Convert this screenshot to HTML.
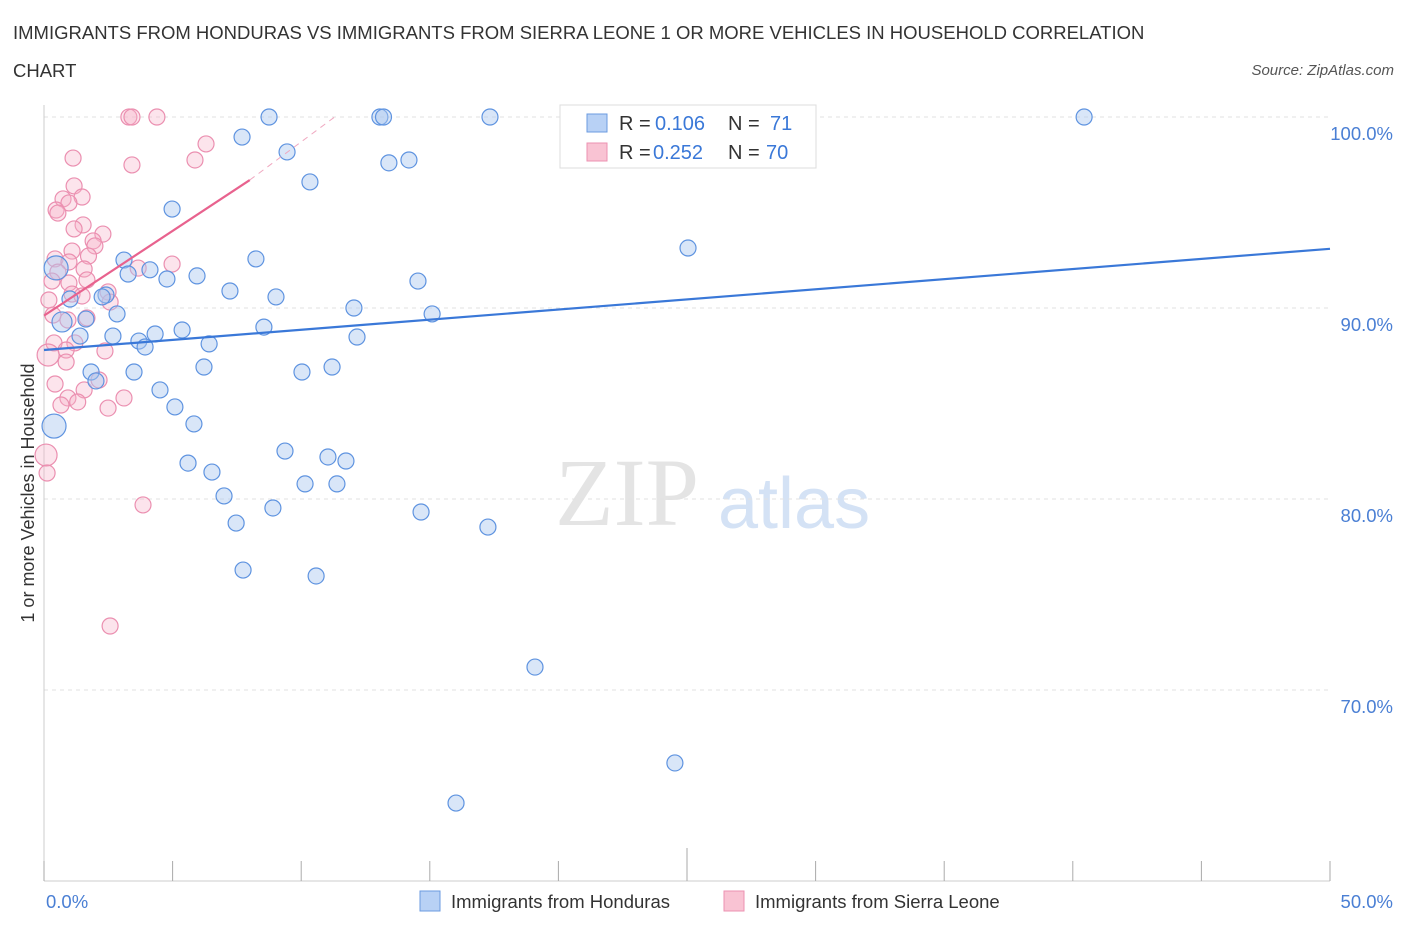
<!DOCTYPE html>
<html><head><meta charset="utf-8">
<style>
body{margin:0;background:#fff;font-family:"Liberation Sans",sans-serif;}
#wrap{position:relative;width:1406px;height:930px;overflow:hidden;}
.t{position:absolute;white-space:nowrap;}
</style></head>
<body>
<div id="wrap">
<div class="t" style="left:13px;top:14px;font-size:18.5px;color:#333;line-height:38px;">IMMIGRANTS FROM HONDURAS VS IMMIGRANTS FROM SIERRA LEONE 1 OR MORE VEHICLES IN HOUSEHOLD CORRELATION<br>CHART</div>
<div class="t" style="right:12px;top:62px;font-size:15px;font-style:italic;color:#555;">Source: ZipAtlas.com</div>
<svg id="svg" width="1406" height="930" style="position:absolute;left:0;top:0"></svg>
</div>
<script>
const xTicks=[0,5,10,15,20,25,30,35,40,45,50];
const yTicks=[70,80,90,100];
const yTickLabels=["70.0%","80.0%","90.0%","100.0%"];
const blueX=[8.75,13.06,13.2,17.34,40.44,28.1,7.7,9.45,14.19,13.41,10.34,4.98,25.04,3.11,8.24,4.12,3.27,5.95,4.78,14.54,7.23,9.02,2.41,1.01,2.26,12.05,15.09,2.84,0.7,1.63,8.55,5.37,4.32,2.68,1.4,12.17,3.69,3.93,6.42,6.22,10.03,11.2,3.5,1.83,2.02,4.51,5.09,5.83,0.39,9.37,11.04,11.74,5.6,6.53,10.15,11.39,7.0,8.9,14.66,7.47,17.26,7.74,10.58,19.09,24.53,16.02,0.47];
const blueY=[100,100,100,100,100,100,98.95,98.17,97.75,97.6,96.6,95.18,93.14,92.51,92.57,92.0,91.78,91.68,91.52,91.41,90.89,90.58,90.68,90.47,90.58,90.0,89.69,89.69,89.27,89.42,89.0,88.85,88.64,88.53,88.53,88.48,88.27,87.96,88.12,86.91,86.65,86.91,86.65,86.65,86.18,85.71,84.82,83.93,83.82,82.51,82.2,81.99,81.88,81.41,80.79,80.79,80.16,79.53,79.32,78.74,78.53,76.28,75.97,71.2,66.18,64.08,92.1];
const blueR=[8,8,8,8,8,8,8,8,8,8,8,8,8,8,8,8,8,8,8,8,8,8,8,8,8,8,8,8,10,8,8,8,8,8,8,8,8,8,8,8,8,8,8,8,8,8,8,8,12,8,8,8,8,8,8,8,8,8,8,8,8,8,8,8,8,8,12];
const pinkX=[3.3,3.42,4.39,6.3,5.87,3.42,1.13,1.17,1.48,0.74,0.97,0.47,0.54,1.52,1.17,2.29,1.91,1.98,1.09,1.73,0.43,0.97,4.98,3.66,1.56,0.54,1.67,0.97,0.31,1.09,1.48,2.49,2.57,0.19,0.35,0.93,1.67,0.39,1.2,0.86,2.37,0.86,1.56,2.14,0.43,0.93,1.31,0.66,3.11,2.49,0.08,0.12,3.85,2.57,0.16];
const pinkY=[100,100,100,98.59,97.75,97.49,97.85,96.39,95.81,95.71,95.5,95.13,94.97,94.35,94.14,93.87,93.51,93.25,92.98,92.72,92.57,92.41,92.3,92.09,92.04,91.88,91.47,91.31,91.41,90.73,90.63,90.84,90.31,90.42,89.63,89.37,89.48,88.17,88.17,87.8,87.75,87.17,85.71,86.23,86.02,85.29,85.08,84.92,85.29,84.76,82.3,81.36,79.69,73.35,87.54];
const blueTrend=[87.8,93.1];
const pinkTrend=[89.6,96.7,100];
const pinkTrendX=[0,8,11.3];
const X=v=>44+v*25.72, Y=v=>117+(100-v)*19.1;
const svg=document.getElementById('svg');
function mk(tag,attrs,name){const e=document.createElementNS('http://www.w3.org/2000/svg',tag);for(const k in attrs)e.setAttribute(k,attrs[k]);


svg.appendChild(e);return e;}
let w=mk('text',{x:555,y:525,'font-size':96,'font-family':'Liberation Serif',fill:'#e4e4e4'},'watermark-zip');w.textContent='ZIP';
w=mk('text',{x:718,y:528,'font-size':72,'font-family':'Liberation Sans',fill:'#d4e2f5'},'watermark-atlas');w.textContent='atlas';
yTicks.forEach((v,i)=>{mk('line',{x1:44,x2:1330,y1:Y(v),y2:Y(v),stroke:'#e2e2e2','stroke-dasharray':'4,4'},'gridline-y');
const t=mk('text',{x:1393,y:Y(v)+23,'text-anchor':'end','font-size':18.5,fill:'#4a7fd4'},'y-tick-label');t.textContent=yTickLabels[i];});
mk('line',{x1:44,x2:44,y1:105,y2:881,stroke:'#ccc'},'y-axis-line');
mk('line',{x1:44,x2:1330,y1:881,y2:881,stroke:'#ccc'},'x-axis-line');
xTicks.forEach((v,i)=>{mk('line',{x1:X(v),x2:X(v),y1:881,y2:(i==5?848:861),stroke:'#aaa'},'x-tick');});
let t=mk('text',{x:46,y:908,'font-size':18.5,fill:'#4a7fd4'},'x-tick-label');t.textContent='0.0%';
t=mk('text',{x:1393,y:908,'text-anchor':'end','font-size':18.5,fill:'#4a7fd4'},'x-tick-label');t.textContent='50.0%';
t=mk('text',{x:34,y:493,'font-size':18,fill:'#333','text-anchor':'middle',transform:'rotate(-90 34 493)'},'y-axis-title');t.textContent='1 or more Vehicles in Household';
pinkX.forEach((v,i)=>mk('circle',{cx:X(v),cy:Y(pinkY[i]),r:(i==54||i==50?11:8),fill:'rgba(247,178,200,0.35)',stroke:'#eb8fb0','stroke-width':1.2},'point-sierra-leone'));
blueX.forEach((v,i)=>mk('circle',{cx:X(v),cy:Y(blueY[i]),r:blueR[i],fill:'rgba(170,200,240,0.45)',stroke:'#5e93e0','stroke-width':1.2},'point-honduras'));
mk('line',{x1:X(0),y1:Y(blueTrend[0]),x2:X(50),y2:Y(blueTrend[1]),stroke:'#3a78d8','stroke-width':2.2},'trend-honduras');
mk('line',{x1:X(pinkTrendX[0]),y1:Y(pinkTrend[0]),x2:X(pinkTrendX[1]),y2:Y(pinkTrend[1]),stroke:'#e8628e','stroke-width':2.2},'trend-sierra-leone');
mk('line',{x1:X(pinkTrendX[1]),y1:Y(pinkTrend[1]),x2:X(pinkTrendX[2]),y2:Y(pinkTrend[2]),stroke:'#f0a8c0','stroke-width':1,'stroke-dasharray':'6,5'},'trend-sierra-leone-ext');
mk('rect',{x:560,y:105,width:256,height:63,fill:'#fff',stroke:'#ddd'},'legend-box');
mk('rect',{x:587,y:114,width:20,height:18,fill:'#b8d1f5',stroke:'#6b9be0'},'legend-swatch-honduras');
mk('rect',{x:587,y:143,width:20,height:18,fill:'#f9c3d3',stroke:'#ec92b2'},'legend-swatch-sierra-leone');
[['R = ',619,130,'#333'],['0.106',655,130,'#3a78d8'],['N = ',728,130,'#333'],['71',770,130,'#3a78d8'],['R = ',619,159,'#333'],['0.252',653,159,'#3a78d8'],['N = ',728,159,'#333'],['70',766,159,'#3a78d8']].forEach(a=>{const e=mk('text',{x:a[1],y:a[2],'font-size':20,fill:a[3]},'legend-stat');e.textContent=a[0];});
mk('rect',{x:420,y:891,width:20,height:20,fill:'#b8d1f5',stroke:'#6b9be0'},'bottom-legend-swatch-honduras');
t=mk('text',{x:451,y:908,'font-size':18.5,fill:'#333'},'bottom-legend-honduras');t.textContent='Immigrants from Honduras';
mk('rect',{x:724,y:891,width:20,height:20,fill:'#f9c3d3',stroke:'#ec92b2'},'bottom-legend-swatch-sierra-leone');
t=mk('text',{x:755,y:908,'font-size':18.5,fill:'#333'},'bottom-legend-sierra-leone');t.textContent='Immigrants from Sierra Leone';
</script>
</body></html>
